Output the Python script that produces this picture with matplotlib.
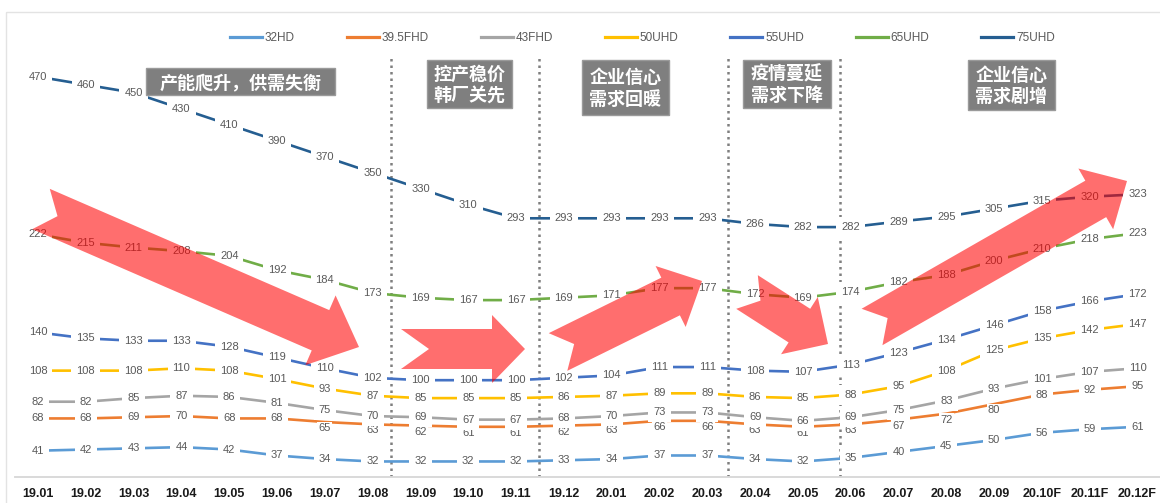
import numpy as np
import matplotlib.pyplot as plt
from matplotlib.patches import Polygon, Rectangle
from matplotlib.lines import Line2D
from matplotlib.transforms import offset_copy

plt.rcParams['font.family'] = ['Liberation Sans', 'Noto Sans CJK SC']

# --- datos ---
meses = ['19.01', '19.02', '19.03', '19.04', '19.05', '19.06', '19.07', '19.08',
         '19.09', '19.10', '19.11', '19.12', '20.01', '20.02', '20.03', '20.04',
         '20.05', '20.06', '20.07', '20.08', '20.09', '20.10F', '20.11F', '20.12F']

hd32 = [41, 42, 43, 44, 42, 37, 34, 32, 32, 32, 32, 33, 34, 37, 37, 34, 32, 35, 40, 45, 50, 56, 59, 61]
fhd395 = [68, 68, 69, 70, 68, 68, 65, 63, 62, 61, 61, 62, 63, 66, 66, 63, 61, 63, 67, 72, 80, 88, 92, 95]
fhd43 = [82, 82, 85, 87, 86, 81, 75, 70, 69, 67, 67, 68, 70, 73, 73, 69, 66, 69, 75, 83, 93, 101, 107, 110]
uhd50 = [108, 108, 108, 110, 108, 101, 93, 87, 85, 85, 85, 86, 87, 89, 89, 86, 85, 88, 95, 108, 125, 135, 142, 147]
uhd55 = [140, 135, 133, 133, 128, 119, 110, 102, 100, 100, 100, 102, 104, 111, 111, 108, 107, 113, 123, 134, 146, 158, 166, 172]
uhd65 = [222, 215, 211, 208, 204, 192, 184, 173, 169, 167, 167, 169, 171, 177, 177, 172, 169, 174, 182, 188, 200, 210, 218, 223]
uhd75 = [470, 460, 450, 430, 410, 390, 370, 350, 330, 310, 293, 293, 293, 293, 293, 286, 282, 282, 289, 295, 305, 315, 320, 323]

nombres = ['32HD', '39.5FHD', '43FHD', '50UHD', '55UHD', '65UHD', '75UHD']
colores = ['#5B9BD5', '#ED7D31', '#A5A5A5', '#FFC000', '#4472C4', '#70AD47', '#255E91']

# separadores de etapas (posicion en el eje x)
cortes = [7.39, 10.47, 14.43, 16.78]

etapas = ['产能爬升，供需失衡', '控产稳价\n韩厂关先', '企业信心\n需求回暖',
          '疫情蔓延\n需求下降', '企业信心\n需求剧增']

W, H = 1160, 503
fig = plt.figure(figsize=(W / 100, H / 100), dpi=100)
ax = fig.add_axes([15 / W, (H - 477) / H, 1145 / W, 447 / H])
ax2 = ax.twinx()

x = np.arange(len(meses))


def etiquetas(a, s, z=3, abajo=()):
    # etiquetas de datos centradas sobre el punto (algunas debajo de la linea)
    bajo = offset_copy(a.transData, fig=fig, x=0, y=-6, units='dots')
    for i, v in enumerate(s):
        if i in abajo:
            a.text(x[i], v, str(v), ha='center', va='center', fontsize=8, color='#595959',
                   transform=bajo, zorder=z,
                   bbox=dict(boxstyle='square,pad=0.12', fc='white', ec='none'))
        else:
            a.text(x[i], v, str(v), ha='center', va='center', fontsize=8, color='#595959',
                   zorder=z, bbox=dict(boxstyle='square,pad=0.45', fc='white', ec='none'))


series = [hd32, fhd395, fhd43, uhd50, uhd55, uhd65]
for s, c in zip(series, colores[:6]):
    ax.plot(x, s, color=c, lw=1.9, zorder=2, solid_capstyle='butt')

etiquetas(ax, hd32)
etiquetas(ax, fhd395, z=3, abajo=range(6, 21))
etiquetas(ax, fhd43, z=4)
etiquetas(ax, uhd50)
etiquetas(ax, uhd55)
etiquetas(ax, uhd65)

# 75UHD en eje secundario
ax2.plot(x, uhd75, color=colores[6], lw=1.9, zorder=2, solid_capstyle='butt')
etiquetas(ax2, uhd75)

ax.set_xlim(-0.481, 23.47)
ax.set_ylim(19.0, 393)
ax2.set_ylim(-30.4, 528.4)

for a in (ax, ax2):
    for k in ('top', 'left', 'right'):
        a.spines[k].set_visible(False)
    a.spines['bottom'].set_color('#d9d9d9')
    a.spines['bottom'].set_linewidth(1.2)
    a.set_yticks([])
ax.set_xticks(x)
ax.set_xticklabels(meses, fontsize=9, fontweight='bold', color='#1a1a1a')
ax.tick_params(axis='x', length=0, pad=8)

for c in cortes:
    ax.axvline(c, ymin=0, ymax=0.944, color='#7f7f7f', lw=1.8, ls=(0, (1, 1.6)), zorder=1)

# leyenda
handles = [Line2D([], [], color=c, lw=2.3) for c in colores]
fig.legend(handles, nombres, loc='center left', bbox_to_anchor=(230 / W, 1 - 38 / H),
           ncol=7, frameon=False, fontsize=8.5, handlelength=2.7, handletextpad=0.25,
           columnspacing=4.4, borderpad=0, borderaxespad=0, labelcolor='#595959')

# capa de anotaciones en pixeles
ov = fig.add_axes([0, 0, 1, 1], zorder=5)
ov.set_xlim(0, W)
ov.set_ylim(H, 0)
ov.axis('off')
ov.patch.set_visible(False)

ov.add_patch(Rectangle((6, 12), W, H, fill=False, ec='#e3e3e3', lw=1))

cajas = [(146, 68, 335, 95), (427, 60, 512, 108), (582, 60, 669, 115),
         (743, 60, 831, 108), (968, 60, 1055, 110)]
for (x0, y0, x1, y1), t in zip(cajas, etapas):
    ov.add_patch(Rectangle((x0, y0), x1 - x0, y1 - y0, fc='#7f7f7f', ec='#9a9a9a', lw=1))
    ov.text((x0 + x1) / 2, (y0 + y1) / 2 + 1, t, ha='center', va='center', color='white',
            fontsize=13, fontweight='bold', family=['Noto Sans CJK SC'], linespacing=1.15)


def flecha(cola, punta, w, h, L, n):
    T = np.array(cola, float)
    P = np.array(punta, float)
    u = (P - T) / np.linalg.norm(P - T)
    v = np.array([-u[1], u[0]])
    B = P - u * L
    pts = [T + v * w, B + v * w, B + v * h, P, B - v * h, B - v * w, T - v * w, T + u * n]
    ov.add_patch(Polygon(pts, closed=True, fc='#ff0000', ec='none', alpha=0.57))


flecha((41, 209), (359, 347), 22, 38, 42, 18)
flecha((401, 349), (525, 349), 20, 34, 33, 28)
flecha((558, 352), (702, 281), 21, 34, 35, 18)
flecha((747, 292), (828, 344), 20, 34, 34, 16)
flecha((872, 327), (1127, 181), 21, 35, 36, 18)

fig.savefig('out.png', dpi=100)
